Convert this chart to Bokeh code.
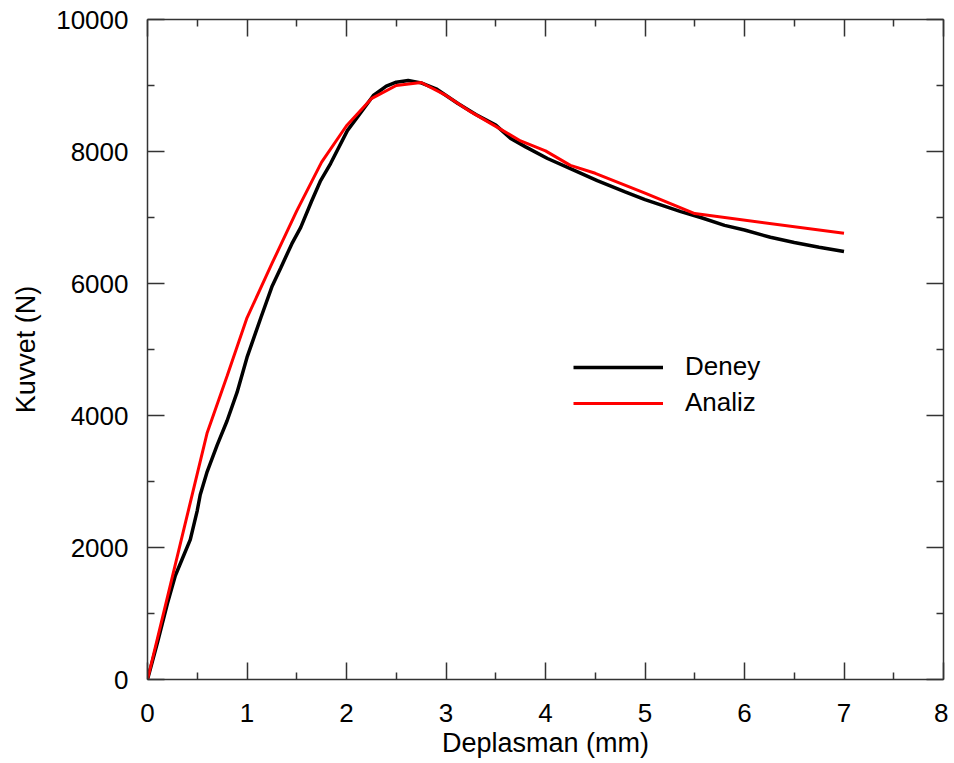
from bokeh.plotting import figure
from bokeh.models import FixedTicker, LinearAxis, Range1d, Legend, LegendItem
from bokeh.embed import file_html
from bokeh.resources import INLINE

# Deney (experiment)
deney_x = [0, 0.1, 0.2, 0.28, 0.35, 0.43, 0.5, 0.53, 0.6, 0.7, 0.8, 0.9, 1.0, 1.14, 1.25,
           1.34, 1.45, 1.54, 1.65, 1.74, 1.84, 2.01, 2.1, 2.27, 2.4, 2.5, 2.62, 2.75, 2.9,
           3.12, 3.3, 3.5, 3.65, 3.8, 4.02, 4.25, 4.52, 4.8, 5.0, 5.36, 5.56, 5.8, 6.0,
           6.26, 6.5, 6.75, 7.0]
deney_y = [0, 560, 1150, 1576, 1830, 2120, 2560, 2800, 3150, 3550, 3920, 4350, 4880, 5485, 5950,
           6240, 6600, 6850, 7250, 7560, 7818, 8320, 8500, 8848, 8990, 9050, 9076, 9040, 8950,
           8727, 8560, 8400, 8197, 8070, 7894, 7740, 7560, 7390, 7270, 7090, 7000, 6880, 6810,
           6700, 6620, 6550, 6485]

# Analiz (analysis)
analiz_x = [0, 0.6, 0.8, 1.0, 1.25, 1.5, 1.75, 2.0, 2.25, 2.5, 2.75, 3.0, 3.25, 3.5, 3.75,
            4.0, 4.25, 4.5, 5.0, 5.5, 7.0]
analiz_y = [0, 3740, 4600, 5480, 6300, 7100, 7840, 8390, 8800, 9000, 9045, 8850, 8600, 8380, 8160,
            8010, 7790, 7670, 7370, 7060, 6760]

x_ticks = [0, 1, 2, 3, 4, 5, 6, 7, 8]
x_minor = [0.5, 1.5, 2.5, 3.5, 4.5, 5.5, 6.5, 7.5]
y_ticks = [0, 2000, 4000, 6000, 8000, 10000]
y_minor = [1000, 3000, 5000, 7000, 9000]

FONT = "Liberation Sans"
AX = "#333333"
TICK_FS = "26px"
LABEL_FS = "27px"

p = figure(frame_width=796, frame_height=660, output_backend="svg", toolbar_location=None,
           x_range=Range1d(0, 8), y_range=Range1d(0, 10000),
           x_axis_label="Deplasman (mm)", y_axis_label="Kuvvet (N)",
           min_border_left=147, min_border_right=5, min_border_top=19, min_border_bottom=0)
p.outline_line_color = None
p.grid.visible = False
p.background_fill_color = "white"
p.border_fill_color = "white"

def style(ax, labels=True, major=None, minor=None):
    ax.ticker = FixedTicker(ticks=major, minor_ticks=minor)
    ax.major_tick_in = 17
    ax.major_tick_out = 0
    ax.minor_tick_in = 7
    ax.minor_tick_out = 0
    ax.axis_line_color = AX
    ax.axis_line_width = 1.5
    ax.major_tick_line_color = AX
    ax.minor_tick_line_color = AX
    ax.major_tick_line_width = 1.5
    ax.minor_tick_line_width = 1.5
    ax.major_label_text_font = FONT
    ax.major_label_text_font_size = TICK_FS
    ax.major_label_text_color = "black"
    ax.axis_label_text_font = FONT
    ax.axis_label_text_font_size = LABEL_FS
    ax.axis_label_text_font_style = "normal"
    ax.axis_label_text_color = "black"
    if not labels:
        ax.major_label_text_font_size = "0px"
        ax.major_label_text_alpha = 0
        ax.major_label_standoff = 0

style(p.xaxis[0], major=x_ticks, minor=x_minor)
style(p.yaxis[0], major=y_ticks, minor=y_minor)
p.xaxis[0].major_label_standoff = 24
p.xaxis[0].axis_label_standoff = 3
p.yaxis[0].major_label_standoff = 19
p.yaxis[0].axis_label_standoff = 12

top = LinearAxis()
style(top, labels=False, major=x_ticks, minor=x_minor)
right = LinearAxis()
style(right, labels=False, major=y_ticks, minor=y_minor)
p.add_layout(top, "above")
p.add_layout(right, "right")

r1 = p.line(deney_x, deney_y, line_color="black", line_width=3.5)
r2 = p.line(analiz_x, analiz_y, line_color="#ff0000", line_width=3)

legend = Legend(items=[LegendItem(label="Deney", renderers=[r1]),
                       LegendItem(label="Analiz", renderers=[r2])],
                location=(426, 261), border_line_color=None, background_fill_alpha=0,
                padding=0, margin=0, spacing=5, glyph_width=90, glyph_height=30,
                label_height=30, label_standoff=22,
                label_text_font=FONT, label_text_font_size=TICK_FS, label_text_color="black")
p.add_layout(legend, "center")

open("out.html", "w").write(file_html(p, INLINE))
